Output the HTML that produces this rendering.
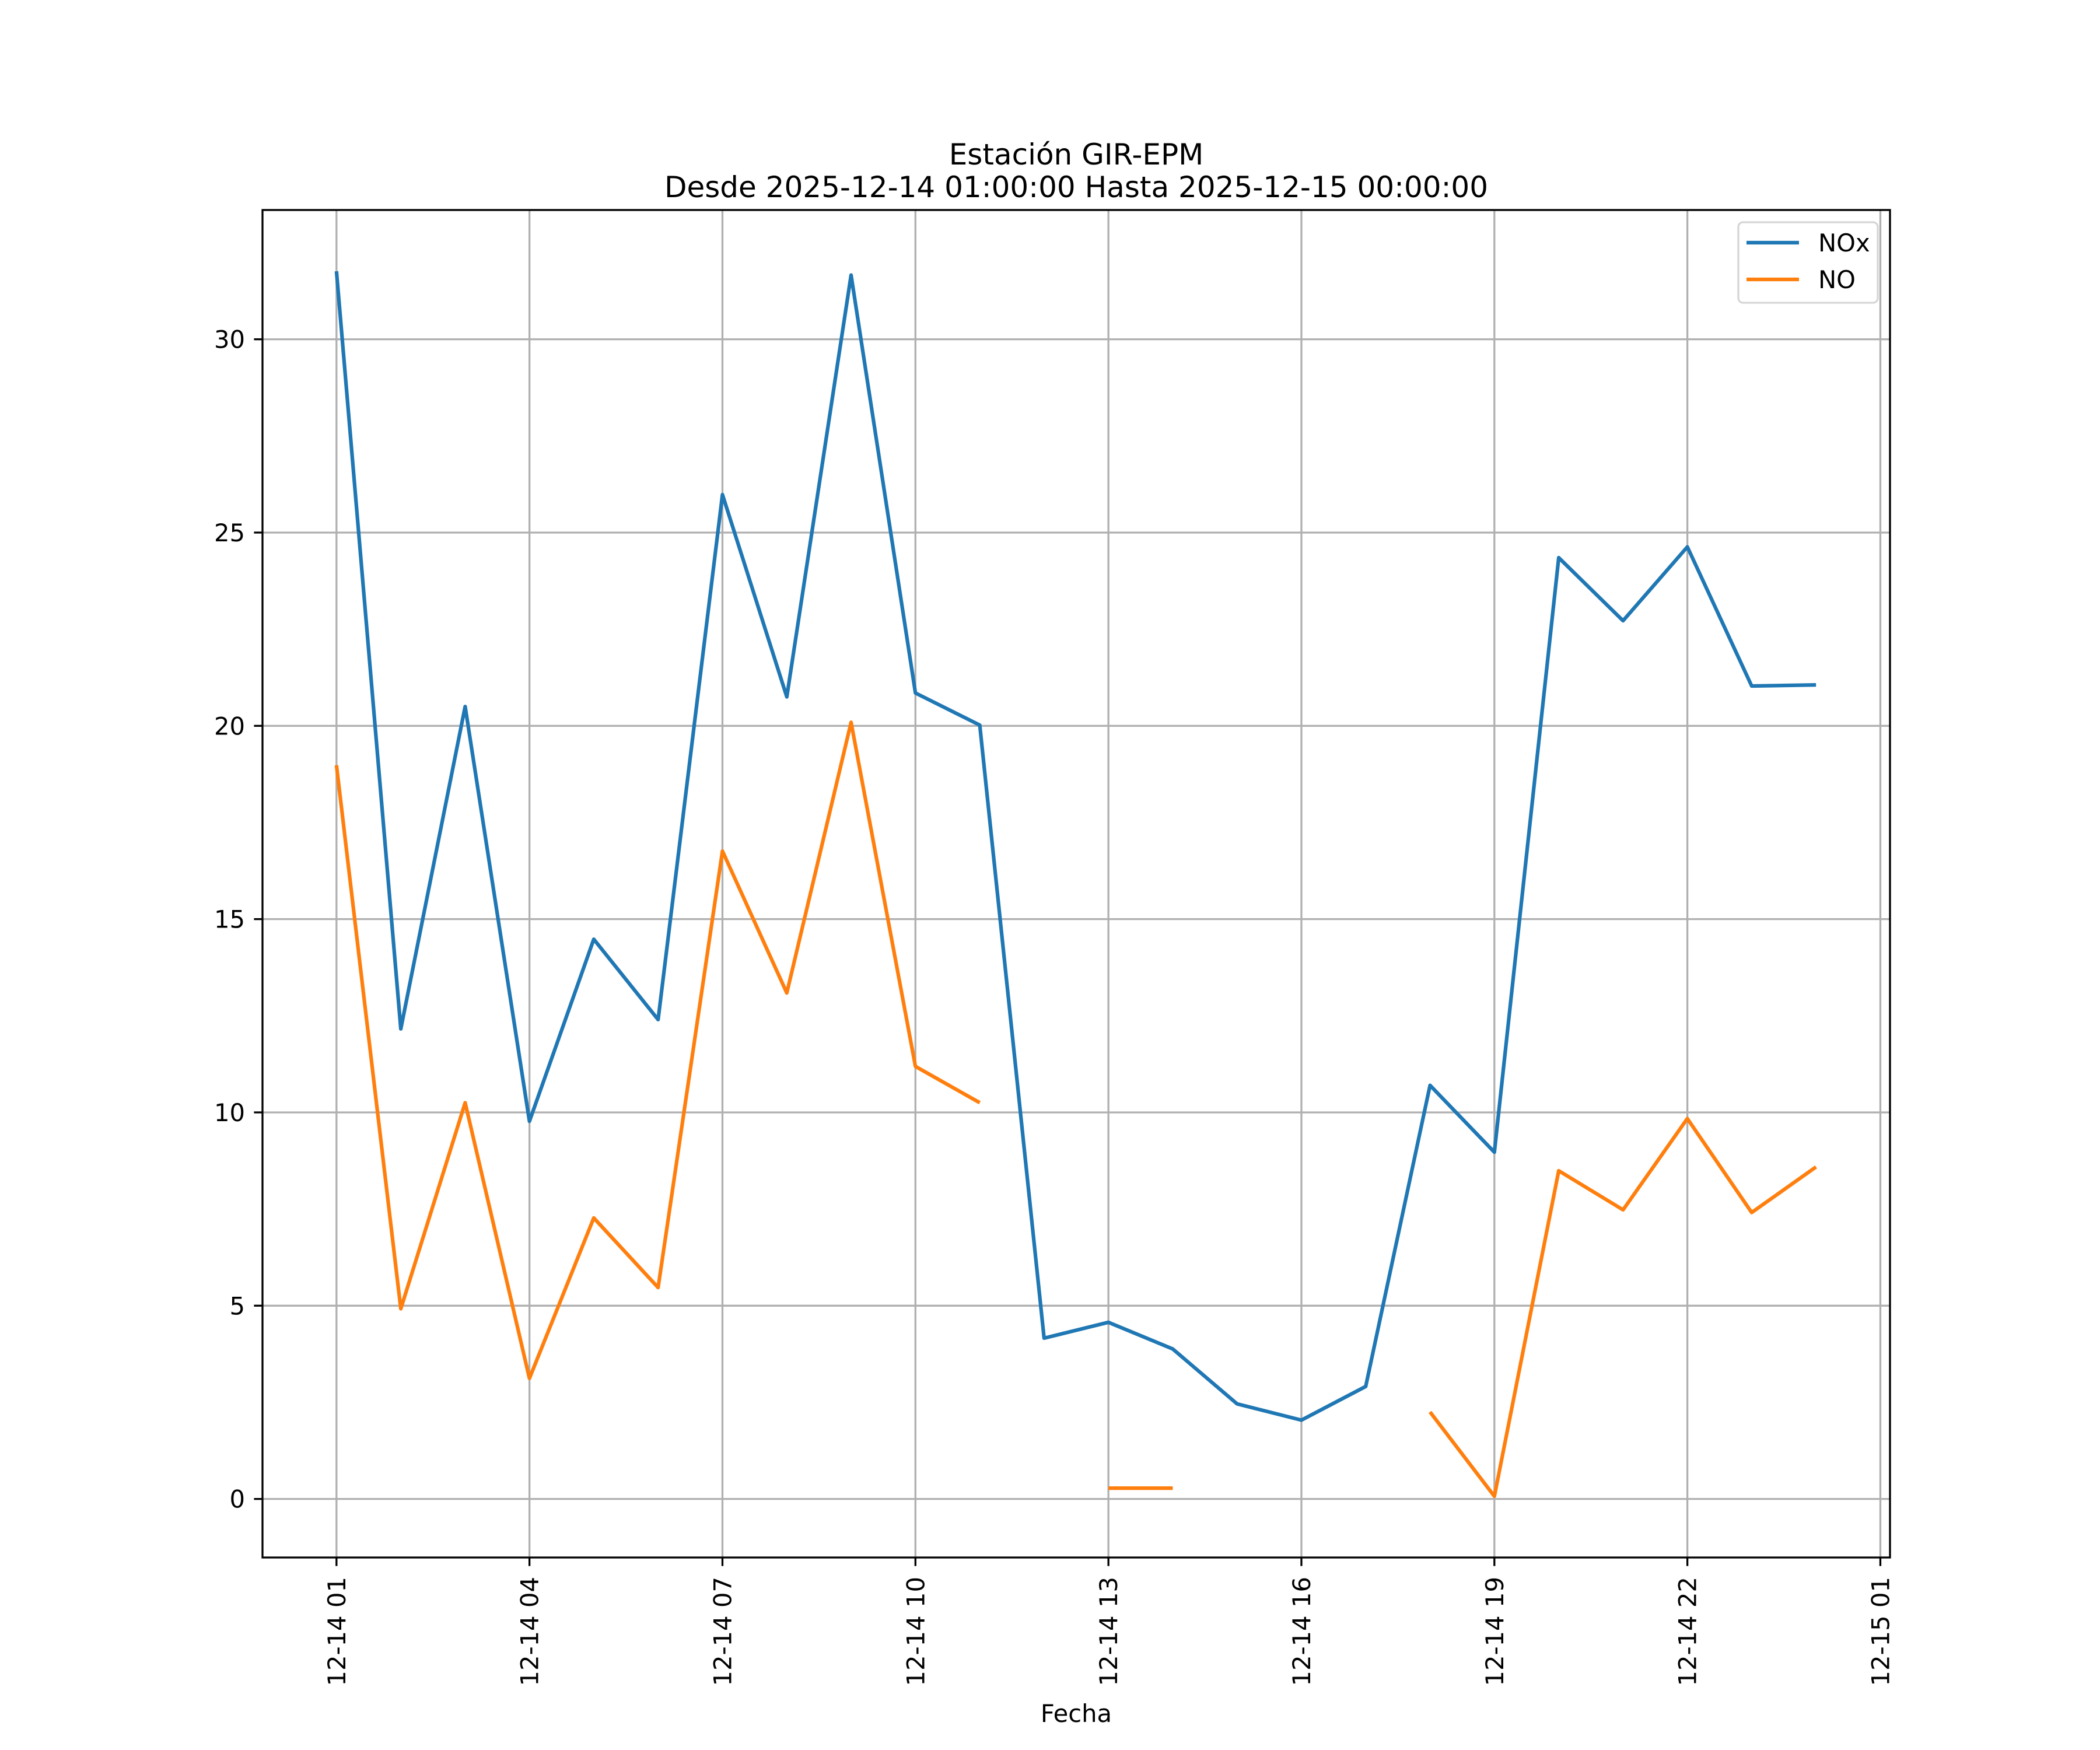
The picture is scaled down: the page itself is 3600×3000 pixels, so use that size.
<!DOCTYPE html>
<html><head><meta charset="utf-8"><style>
html,body{margin:0;padding:0;background:#fff}
svg{display:block;font-family:"DejaVu Sans","Liberation Sans",sans-serif}
</style></head><body>
<svg id="chart" width="3600" height="3000" viewBox="0 0 3600 3000" xmlns="http://www.w3.org/2000/svg">
<rect x="0" y="0" width="3600" height="3000" fill="#fff"/>
<g id="grid"></g>
<g id="series"></g>
<rect x="450" y="360" width="2790" height="2310" fill="none" stroke="#000" stroke-width="3.3"/>
<g id="ticks"></g>
<text x="1845" y="282" text-anchor="middle" font-size="50">Estación GIR-EPM</text>
<text x="1845" y="338" text-anchor="middle" font-size="50">Desde 2025-12-14 01:00:00 Hasta 2025-12-15 00:00:00</text>
<text x="1845" y="2952" text-anchor="middle" font-size="41.7">Fecha</text>
<g>
<rect x="2980" y="381" width="239" height="138" rx="8" fill="#fff" fill-opacity="0.8" stroke="#d6d6d6" stroke-width="3.3"/>
<line x1="2994" y1="416" x2="3084" y2="416" stroke="#1f77b4" stroke-width="6.25"/>
<text x="3117" y="431" font-size="41.7">NOx</text>
<line x1="2994" y1="479" x2="3084" y2="479" stroke="#ff7f0e" stroke-width="6.25"/>
<text x="3117" y="494" font-size="41.7">NO</text>
</g>
</svg>
<script>
const hours = [0,1,2,3,4,5,6,7,8,9,10,11,12,13,14,15,16,17,18,19,20,21,22,23];
const noxValues = [31.76,12.16,20.5,9.77,14.48,12.4,25.98,20.75,31.66,20.85,20.02,4.16,4.57,3.88,2.46,2.04,2.91,10.7,8.97,24.35,22.72,24.63,21.03,21.06];
const noValues = [18.98,4.92,10.25,3.12,7.27,5.47,16.76,13.09,20.09,11.19,10.25,null,0.28,0.28,null,null,null,2.25,0.07,8.49,7.48,9.84,7.41,8.59];
const xTickHours = [0,3,6,9,12,15,18,21,24];
const xTickLabels = ["12-14 01","12-14 04","12-14 07","12-14 10","12-14 13","12-14 16","12-14 19","12-14 22","12-15 01"];
const yTickValues = [0,5,10,15,20,25,30];

const NS="http://www.w3.org/2000/svg";
const L=450,R=3240,T=360,B=2670;
const allV=noxValues.concat(noValues).filter(v=>v!==null);
const vmin=Math.min(...allV),vmax=Math.max(...allV),m=(vmax-vmin)*0.05;
const y0=vmin-m,y1=vmax+m;
const hmin=Math.min(...hours),hmax=Math.max(...hours),hm=(hmax-hmin)*0.05;
const x0=hmin-hm,x1=hmax+hm;
const sx=h=>L+(h-x0)/(x1-x0)*(R-L);
const sy=v=>B-(v-y0)/(y1-y0)*(B-T);
function mk(tag,attrs,parent){const e=document.createElementNS(NS,tag);for(const k in attrs)e.setAttribute(k,attrs[k]);parent.appendChild(e);return e;}
const grid=document.getElementById('grid'),ticks=document.getElementById('ticks'),series=document.getElementById('series');
xTickHours.forEach((h,i)=>{
  const x=sx(h);
  const g=mk('line',{x1:x,y1:T,x2:x,y2:B,stroke:'#b0b0b0','stroke-width':3.3},grid);
  
  
  const t=mk('line',{x1:x,y1:B,x2:x,y2:B+14.6,stroke:'#000','stroke-width':3.3},ticks);
  
  
  const tx=mk('text',{x:0,y:0,'font-size':41.7,'text-anchor':'end',transform:`translate(${x+15},${B+33}) rotate(-90)`},ticks);
  tx.textContent=xTickLabels[i];
  
  
});
yTickValues.forEach(v=>{
  const y=sy(v);
  const g=mk('line',{x1:L,y1:y,x2:R,y2:y,stroke:'#b0b0b0','stroke-width':3.3},grid);
  
  
  const t=mk('line',{x1:L-14.6,y1:y,x2:L,y2:y,stroke:'#000','stroke-width':3.3},ticks);
  
  
  const tx=mk('text',{x:L-30,y:y+15,'font-size':41.7,'text-anchor':'end'},ticks);
  tx.textContent=String(v);
  
  
});
function drawSeries(vals,color,name){
  let segs=[],cur=[];
  vals.forEach((v,i)=>{if(v===null){if(cur.length)segs.push(cur);cur=[];}else cur.push(sx(hours[i]).toFixed(1)+','+sy(v).toFixed(1));});
  if(cur.length)segs.push(cur);
  segs.forEach(s=>{
    const p=mk('polyline',{points:s.join(' '),fill:'none',stroke:color,'stroke-width':6.25,'stroke-linejoin':'round','stroke-linecap':'butt'},series);
    
    
  });
}
drawSeries(noxValues,'#1f77b4','nox-line');
drawSeries(noValues,'#ff7f0e','no-line');
</script>
</body></html>
